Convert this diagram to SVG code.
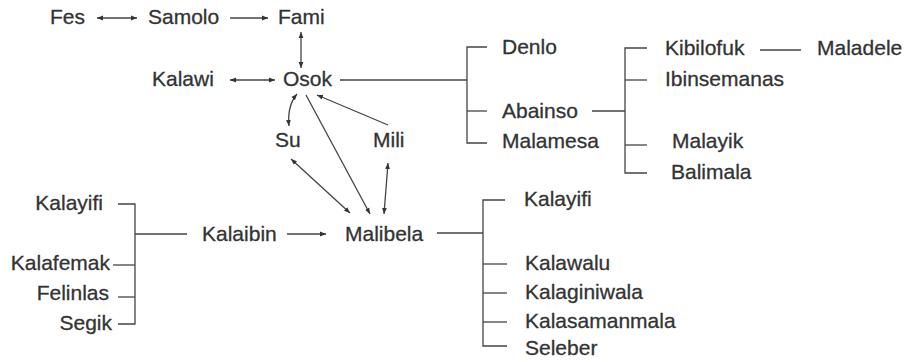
<svg xmlns="http://www.w3.org/2000/svg" width="909" height="362" viewBox="0 0 909 362">
<style>
text{font-family:"Liberation Sans",Arial,Helvetica,sans-serif;font-size:21px;fill:#333;stroke:#333;stroke-width:0.3}
.e{text-anchor:end}
.c line,.c path,.c polyline{stroke:#444;stroke-width:1.3;fill:none}
</style>
<defs>
<marker id="a" viewBox="0 0 6 6" refX="6" refY="3" markerWidth="6" markerHeight="6" markerUnits="userSpaceOnUse" orient="auto-start-reverse">
<path d="M0,0.6 L6,3 L0,5.4 z" fill="#333"/>
</marker>
</defs>
<rect width="909" height="362" fill="#fff"/>
<g class="c" id="connectors">
<line x1="97" y1="18" x2="137" y2="18" marker-start="url(#a)" marker-end="url(#a)"/>
<line x1="230" y1="18" x2="268" y2="18" marker-end="url(#a)"/>
<line x1="301" y1="32" x2="301" y2="68" marker-start="url(#a)" marker-end="url(#a)"/>
<line x1="230" y1="80" x2="275" y2="80" marker-start="url(#a)" marker-end="url(#a)"/>
<path d="M297,94 Q287,106 289,126" marker-start="url(#a)" marker-end="url(#a)"/>
<line x1="388" y1="125" x2="317" y2="95" marker-end="url(#a)"/>
<line x1="306" y1="95" x2="370" y2="214" marker-end="url(#a)"/>
<line x1="291" y1="159" x2="350" y2="213" marker-start="url(#a)" marker-end="url(#a)"/>
<line x1="388" y1="163" x2="384" y2="214" marker-start="url(#a)" marker-end="url(#a)"/>
<line x1="340" y1="80" x2="467" y2="80"/>
<polyline points="487,47 467,47 467,143 487,143"/>
<line x1="467" y1="111" x2="487" y2="111"/>
<line x1="592" y1="111" x2="625" y2="111"/>
<polyline points="647,48 625,48 625,173 647,173"/>
<line x1="625" y1="80" x2="647" y2="80"/>
<line x1="625" y1="145" x2="647" y2="145"/>
<line x1="760" y1="50" x2="801" y2="50"/>
<line x1="437" y1="233" x2="483" y2="233"/>
<polyline points="505,200 483,200 483,346 507,346"/>
<line x1="483" y1="264" x2="507" y2="264"/>
<line x1="483" y1="293" x2="507" y2="293"/>
<line x1="483" y1="322" x2="507" y2="322"/>
<polyline points="118,204 135,204 135,324 118,324"/>
<line x1="113" y1="265" x2="135" y2="265"/>
<line x1="118" y1="297" x2="135" y2="297"/>
<line x1="135" y1="234" x2="187" y2="234"/>
<line x1="287" y1="234" x2="326" y2="234" marker-end="url(#a)"/>
</g>
<g id="fes"><text x="50" y="24">Fes</text></g>
<g id="samolo"><text x="148" y="24">Samolo</text></g>
<g id="fami"><text x="278" y="24">Fami</text></g>
<g id="kalawi"><text x="152" y="86">Kalawi</text></g>
<g id="osok"><text x="283" y="86">Osok</text></g>
<g id="su"><text x="275" y="147">Su</text></g>
<g id="mili"><text x="373" y="147">Mili</text></g>
<g id="denlo"><text x="502" y="54">Denlo</text></g>
<g id="abainso"><text x="502" y="118">Abainso</text></g>
<g id="malamesa"><text x="502" y="148">Malamesa</text></g>
<g id="kibilofuk"><text x="665" y="55">Kibilofuk</text></g>
<g id="maladele"><text x="817" y="55">Maladele</text></g>
<g id="ibinsemanas"><text x="665" y="86">Ibinsemanas</text></g>
<g id="malayik"><text x="672" y="148">Malayik</text></g>
<g id="balimala"><text x="671" y="179">Balimala</text></g>
<g id="kalayifi-l"><text class="e" x="103" y="210">Kalayifi</text></g>
<g id="kalafemak"><text class="e" x="110" y="270">Kalafemak</text></g>
<g id="felinlas"><text class="e" x="109" y="300">Felinlas</text></g>
<g id="segik"><text class="e" x="112" y="330">Segik</text></g>
<g id="kalaibin"><text x="202" y="241">Kalaibin</text></g>
<g id="malibela"><text x="345" y="241">Malibela</text></g>
<g id="kalayifi-r"><text x="524" y="206">Kalayifi</text></g>
<g id="kalawalu"><text x="525" y="270">Kalawalu</text></g>
<g id="kalaginiwala"><text x="525" y="299">Kalaginiwala</text></g>
<g id="kalasamanmala"><text x="525" y="328">Kalasamanmala</text></g>
<g id="seleber"><text x="525" y="355">Seleber</text></g>
</svg>
